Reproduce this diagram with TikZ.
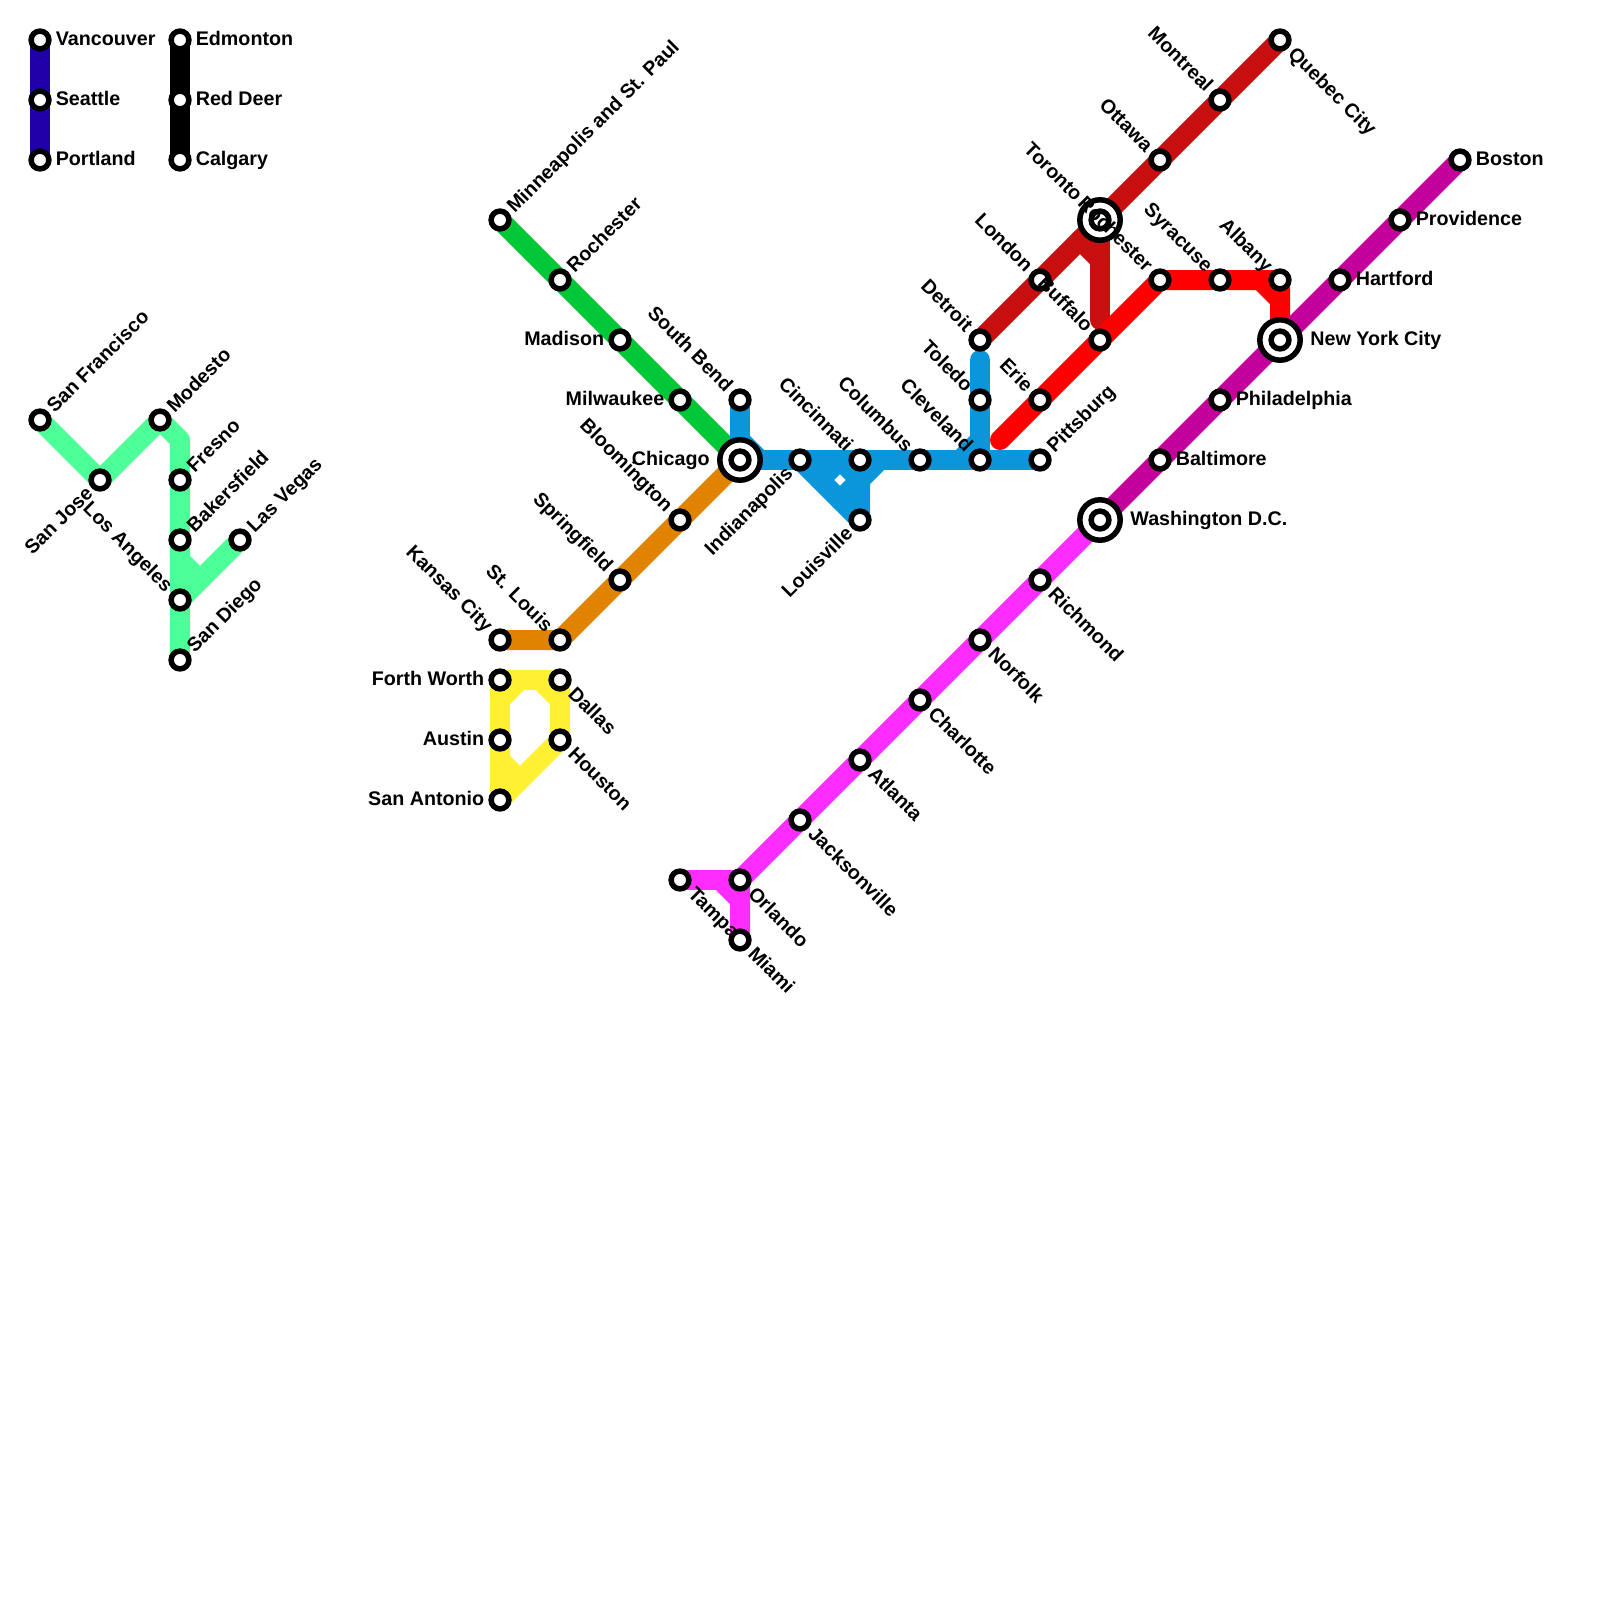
\documentclass[tikz,border=0pt]{standalone}
\usepackage{fontspec}
\setmainfont{Liberation Sans}
\usepackage{xcolor}
\usepackage{tikz}
\usetikzlibrary{backgrounds}
\definecolor{navyline}{HTML}{2000A8}
\definecolor{mintline}{HTML}{4DFF98}
\definecolor{greenline}{HTML}{00C838}
\definecolor{orangeline}{HTML}{E08400}
\definecolor{yellowline}{HTML}{FFF032}
\definecolor{blueline}{HTML}{0A96D8}
\definecolor{darkredline}{HTML}{C81010}
\definecolor{redline}{HTML}{FF0000}
\definecolor{pinkline}{HTML}{FF2CFF}
\definecolor{purpleline}{HTML}{C4009C}

\begin{document}
\begin{tikzpicture}[x=0.5pt, y=-0.5pt,
			station/.style={draw,fill=white,circle,line width=2.75pt,inner sep=0pt,minimum size=8.9pt},
			hub/.style={draw,fill=white,circle,line width=2.75pt,inner sep=0pt,minimum size=20.2pt},
			metro/.style={line width=10pt,line cap=round,line join=round},
			lbl/.style={font=\fontsize{9.85}{12}\bfseries,inner xsep=7.7pt,inner ysep=0pt,text height=7pt,text depth=1.4pt},
			toE/.style={lbl,anchor=west},
			toW/.style={lbl,anchor=east},
			toNE/.style={lbl,anchor=west,inner xsep=6.8pt,xshift=0.5pt,yshift=0.2pt,rotate=45},
			toNW/.style={lbl,anchor=east,rotate=-45},
			toSW/.style={lbl,anchor=east,xshift=0.5pt,yshift=0.2pt,rotate=45},
			toSE/.style={lbl,anchor=west,rotate=-45},
			hubE/.style={toE,inner xsep=15pt},
			hubW/.style={toW,inner xsep=15pt},
			hubNW/.style={toNW,inner xsep=15pt}
			]
			\useasboundingbox (0,0) rectangle (1600,1600);

			\coordinate (sbend1) at (760,460);
			\coordinate (chi1) at (740,440);
			\coordinate (cin1) at (840,460);
			\coordinate (cin2) at (860,480);
			\coordinate (cin3) at (880,460);
			\coordinate (cin4) at (840,500);
			\coordinate (cin5) at (820,480);
			\coordinate (cle1) at (960,460);
			\coordinate (tol1) at (980,440);
			\coordinate (det1) at (980,360);
			\coordinate (erie1) at (1000,440);
			\coordinate (tor1) at (1080,240);
			\coordinate (tor2) at (1100,260);
			\coordinate (buf1) at (1100,320);
			\coordinate (alb1) at (1260,280);
			\coordinate (alb2) at (1280,300);
			\coordinate (mod1) at (180,440);
			\coordinate (bak1) at (180,560);
			\coordinate (veg1) at (200,580);
			\coordinate (ftw1) at (500,700);
			\coordinate (ftw2) at (520,680);
			\coordinate (dal1) at (540,680);
			\coordinate (dal2) at (560,700);
			\coordinate (aus1) at (500,760);
			\coordinate (aus2) at (520,780);
			\coordinate (orl1) at (720,880);
			\coordinate (orl2) at (740,900);

			\node [station](vancouver) at (40,40) {};
			\node [station](seattle) at (40,100) {};
			\node [station](portland) at (40,160) {};
			\node [station](edmonton) at (180,40) {};
			\node [station](reddeer) at (180,100) {};
			\node [station](calgary) at (180,160) {};

			\node [station](sanfrancisco) at (40,420) {};
			\node [station](sanjose) at (100,480) {};
			\node [station](modesto) at (160,420) {};
			\node [station](fresno) at (180,480) {};
			\node [station](bakersfield) at (180,540) {};
			\node [station](lasvegas) at (240,540) {};
			\node [station](losangeles) at (180,600) {};
			\node [station](sandiego) at (180,660) {};

			\node [station](minneapolis) at (500,220) {};
			\node [station](rochesterw) at (560,280) {};
			\node [station](madison) at (620,340) {};
			\node [station](milwaukee) at (680,400) {};
			\node [hub](chicagohub) at (740,460) {};
			\node [station](chicago) at (740,460) {};

			\node [station](southbend) at (740,400) {};
			\node [station](indianapolis) at (800,460) {};
			\node [station](cincinnati) at (860,460) {};
			\node [station](columbus) at (920,460) {};
			\node [station](cleveland) at (980,460) {};
			\node [station](pittsburg) at (1040,460) {};
			\node [station](louisville) at (860,520) {};
			\node [station](toledo) at (980,400) {};

			\node [station](bloomington) at (680,520) {};
			\node [station](springfield) at (620,580) {};
			\node [station](stlouis) at (560,640) {};
			\node [station](kansascity) at (500,640) {};

			\node [station](fortworth) at (500,680) {};
			\node [station](dallas) at (560,680) {};
			\node [station](austin) at (500,740) {};
			\node [station](houston) at (560,740) {};
			\node [station](sanantonio) at (500,800) {};

			\node [station](detroit) at (980,340) {};
			\node [station](london) at (1040,280) {};
			\node [hub](torontohub) at (1100,220) {};
			\node [station](toronto) at (1100,220) {};
			\node [station](ottawa) at (1160,160) {};
			\node [station](montreal) at (1220,100) {};
			\node [station](quebec) at (1280,40) {};

			\node [station](erie) at (1040,400) {};
			\node [station](buffalo) at (1100,340) {};
			\node [station](rochestere) at (1160,280) {};
			\node [station](syracuse) at (1220,280) {};
			\node [station](albany) at (1280,280) {};

			\node [hub](newyorkhub) at (1280,340) {};
			\node [station](newyork) at (1280,340) {};
			\node [station](boston) at (1460,160) {};
			\node [station](providence) at (1400,220) {};
			\node [station](hartford) at (1340,280) {};
			\node [station](philadelphia) at (1220,400) {};
			\node [station](baltimore) at (1160,460) {};
			\node [hub](washingtonhub) at (1100,520) {};
			\node [station](washington) at (1100,520) {};

			\node [station](richmond) at (1040,580) {};
			\node [station](norfolk) at (980,640) {};
			\node [station](charlotte) at (920,700) {};
			\node [station](atlanta) at (860,760) {};
			\node [station](jacksonville) at (800,820) {};
			\node [station](orlando) at (740,880) {};
			\node [station](miami) at (740,940) {};
			\node [station](tampa) at (680,880) {};

			\begin{pgfonlayer}{background}
				\draw[metro, navyline] (vancouver.center) -- (seattle.center) -- (portland.center);
				\draw[metro, black] (edmonton.center) -- (reddeer.center) -- (calgary.center);

				\draw[metro, mintline] (sanfrancisco.center) -- (sanjose.center) -- (modesto.center) -- (mod1) -- (fresno.center) -- (bakersfield.center) -- (losangeles.center) -- (sandiego.center);
				\draw[metro, mintline] (lasvegas.center) -- (losangeles.center);
				\draw[metro, mintline] (bak1) -- (veg1);

				\draw[metro, greenline] (minneapolis.center) -- (rochesterw.center) -- (madison.center) -- (milwaukee.center) -- (chicago.center);
				\draw[metro, orangeline] (chicago.center) -- (bloomington.center) -- (springfield.center) -- (stlouis.center) -- (kansascity.center);

				\draw[metro, yellowline] (fortworth.center) -- (dallas.center) -- (houston.center) -- (sanantonio.center) -- (austin.center) -- (fortworth.center);
				\draw[metro, yellowline] (ftw1) -- (ftw2);
				\draw[metro, yellowline] (dal1) -- (dal2);
				\draw[metro, yellowline] (aus1) -- (aus2);

				\draw[metro, blueline] (southbend.center) -- (chicago.center) -- (indianapolis.center) -- (cincinnati.center) -- (columbus.center) -- (cleveland.center) -- (pittsburg.center);
				\draw[metro, blueline] (chi1) -- (sbend1);
				\draw[metro, blueline] (indianapolis.center) -- (louisville.center) -- (cincinnati.center);
				\draw[metro, blueline] (cin1) -- (cin2);
				\draw[metro, blueline] (cin5) -- (cin1);
				\draw[metro, blueline] (cin4) -- (cin3);
				\draw[metro, blueline] (det1) -- (toledo.center) -- (cleveland.center);
				\draw[metro, blueline] (cle1) -- (tol1);

				\draw[metro, darkredline] (detroit.center) -- (london.center) -- (toronto.center) -- (ottawa.center) -- (montreal.center) -- (quebec.center);
				\draw[metro, darkredline] (tor1) -- (tor2);
				\draw[metro, darkredline] (toronto.center) -- (buf1);

				\draw[metro, redline] (erie1) -- (erie.center) -- (buffalo.center) -- (rochestere.center) -- (syracuse.center) -- (albany.center) -- (newyork.center);
				\draw[metro, redline] (alb1) -- (alb2);

				\draw[metro, purpleline] (washington.center) -- (baltimore.center) -- (philadelphia.center) -- (newyork.center) -- (hartford.center) -- (providence.center) -- (boston.center);
				\draw[metro, pinkline] (washington.center) -- (richmond.center) -- (norfolk.center) -- (charlotte.center) -- (atlanta.center) -- (jacksonville.center) -- (orlando.center) -- (miami.center);
				\draw[metro, pinkline] (tampa.center) -- (orlando.center);
				\draw[metro, pinkline] (orl1) -- (orl2);
			\end{pgfonlayer}

			\node [toE](lvancouver) at (vancouver) {Vancouver};
			\node [toE](lseattle) at (seattle) {Seattle};
			\node [toE](lportland) at (portland) {Portland};
			\node [toE](ledmonton) at (edmonton) {Edmonton};
			\node [toE](lreddeer) at (reddeer) {Red Deer};
			\node [toE](lcalgary) at (calgary) {Calgary};

			\node [toNE](lsanfrancisco) at (sanfrancisco) {San Francisco};
			\node [toSW](lsanjose) at (sanjose) {San Jose};
			\node [toNE](lmodesto) at (modesto) {Modesto};
			\node [toNE](lfresno) at (fresno) {Fresno};
			\node [toNE](lbakersfield) at (bakersfield) {Bakersfield};
			\node [toNE](llasvegas) at (lasvegas) {Las Vegas};
			\node [toNW](llosangeles) at (losangeles) {Los Angeles};
			\node [toNE](lsandiego) at (sandiego) {San Diego};

			\node [toNE](lminneapolis) at (minneapolis) {Minneapolis and St. Paul};
			\node [toNE](lrochesterw) at (rochesterw) {Rochester};
			\node [toW](lmadison) at (madison) {Madison};
			\node [toW](lmilwaukee) at (milwaukee) {Milwaukee};
			\node [hubW](lchicago) at (chicago) {Chicago};

			\node [toNW](lsouthbend) at (southbend) {South Bend};
			\node [toSW](lindianapolis) at (indianapolis) {Indianapolis};
			\node [toNW](lcincinnati) at (cincinnati) {Cincinnati};
			\node [toNW](lcolumbus) at (columbus) {Columbus};
			\node [toNW](lcleveland) at (cleveland) {Cleveland};
			\node [toNE](lpittsburg) at (pittsburg) {Pittsburg};
			\node [toSW](llouisville) at (louisville) {Louisville};
			\node [toNW](ltoledo) at (toledo) {Toledo};

			\node [toNW](lbloomington) at (bloomington) {Bloomington};
			\node [toNW](lspringfield) at (springfield) {Springfield};
			\node [toNW](lstlouis) at (stlouis) {St. Louis};
			\node [toNW](lkansascity) at (kansascity) {Kansas City};

			\node [toW](lfortworth) at (fortworth) {Forth Worth};
			\node [toSE](ldallas) at (dallas) {Dallas};
			\node [toW](laustin) at (austin) {Austin};
			\node [toSE](lhouston) at (houston) {Houston};
			\node [toW](lsanantonio) at (sanantonio) {San Antonio};

			\node [toNW](ldetroit) at (detroit) {Detroit};
			\node [toNW](llondon) at (london) {London};
			\node [hubNW](ltoronto) at (toronto) {Toronto};
			\node [toNW](lottawa) at (ottawa) {Ottawa};
			\node [toNW](lmontreal) at (montreal) {Montreal};
			\node [toSE](lquebec) at (quebec) {Quebec City};

			\node [toNW](lerie) at (erie) {Erie};
			\node [toNW](lbuffalo) at (buffalo) {Buffalo};
			\node [toNW](lrochestere) at (rochestere) {Rochester};
			\node [toNW](lsyracuse) at (syracuse) {Syracuse};
			\node [toNW](lalbany) at (albany) {Albany};

			\node [hubE](lnewyork) at (newyork) {New York City};
			\node [toE](lboston) at (boston) {Boston};
			\node [toE](lprovidence) at (providence) {Providence};
			\node [toE](lhartford) at (hartford) {Hartford};
			\node [toE](lphiladelphia) at (philadelphia) {Philadelphia};
			\node [toE](lbaltimore) at (baltimore) {Baltimore};
			\node [hubE](lwashington) at (washington) {Washington D.C.};

			\node [toSE](lrichmond) at (richmond) {Richmond};
			\node [toSE](lnorfolk) at (norfolk) {Norfolk};
			\node [toSE](lcharlotte) at (charlotte) {Charlotte};
			\node [toSE](latlanta) at (atlanta) {Atlanta};
			\node [toSE](ljacksonville) at (jacksonville) {Jacksonville};
			\node [toSE](lorlando) at (orlando) {Orlando};
			\node [toSE](lmiami) at (miami) {Miami};
			\node [toSE](ltampa) at (tampa) {Tampa};
		\end{tikzpicture}
\end{document}
